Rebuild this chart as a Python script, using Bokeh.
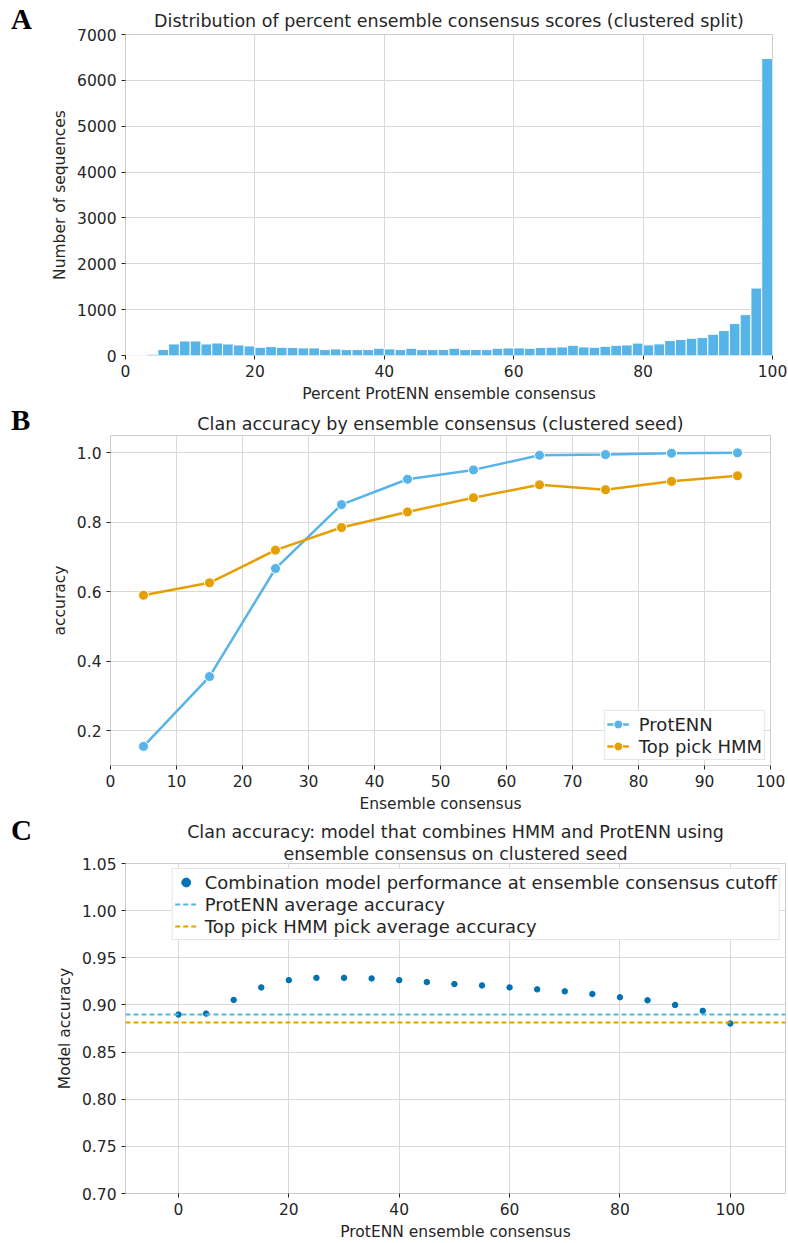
import numpy as np
from bokeh.plotting import figure
from bokeh.layouts import column, row
from bokeh.models import Range1d, FixedTicker, Title, PrintfTickFormatter, Div
from bokeh.embed import file_html
from bokeh.resources import INLINE

# ---------------- data ----------------
# Panel A: histogram of percent ensemble consensus (60 bins over 0..100)
hist_counts = [0, 0, 29, 129, 252, 317, 317, 252, 273, 252,
               230, 209, 180, 194, 180, 173, 165, 165, 129, 144,
               129, 129, 129, 158, 144, 129, 158, 129, 129, 129,
               158, 129, 129, 129, 158, 165, 165, 158, 173, 180,
               187, 223, 187, 180, 201, 223, 230, 270, 232, 254,
               326, 348, 377, 391, 464, 543, 696, 891, 1471, 6478]
hist_min = 0
hist_max = 100

# Panel B: accuracy by ensemble consensus bin
consensus_bins = [5, 15, 25, 35, 45, 55, 65, 75, 85, 95]
protenn_acc = [0.155, 0.356, 0.667, 0.851, 0.924, 0.951, 0.993, 0.995, 0.999, 1.000]
hmm_acc = [0.590, 0.626, 0.720, 0.785, 0.830, 0.871, 0.908, 0.894, 0.918, 0.934]

# Panel C: combination model accuracy by cutoff
cutoffs = [0, 5, 10, 15, 20, 25, 30, 35, 40, 45, 50, 55, 60, 65, 70, 75, 80, 85, 90, 95, 100]
combo_acc = [0.8898, 0.8908, 0.9053, 0.9186, 0.9263, 0.9287, 0.9287, 0.9281, 0.9263, 0.9242,
             0.9221, 0.9207, 0.9186, 0.9165, 0.9144, 0.9116, 0.9081, 0.9049, 0.9000, 0.8937, 0.8803]
protenn_avg = 0.890
hmm_avg = 0.881

# ---------------- style ----------------
FONT = "DejaVu Sans"
TXT = "#262626"
GRID = "#d9d9d9"
BLUE = "#56B4E9"
ORANGE = "#E69F00"
DARKBLUE = "#0072B2"
LW = 40          # width of the column holding the panel letters
W = 788 - LW


def style(p, title):
    p.title.text = title
    p.title.text_font = FONT
    p.title.text_font_size = "17.5px"
    p.title.text_font_style = "normal"
    p.title.text_color = TXT
    p.title.align = "center"
    p.outline_line_color = "#cccccc"
    p.background_fill_color = "white"
    p.border_fill_color = "white"
    for ax in p.axis:
        ax.axis_line_color = None
        ax.major_tick_line_color = TXT
        ax.major_tick_out = 4
        ax.major_tick_in = 0
        ax.minor_tick_line_color = None
        ax.major_label_text_font = FONT
        ax.major_label_text_font_size = "15.5px"
        ax.major_label_text_color = TXT
        ax.axis_label_text_font = FONT
        ax.axis_label_text_font_size = "15.5px"
        ax.axis_label_text_font_style = "normal"
        ax.axis_label_text_color = TXT
        ax.axis_label_standoff = 5
    for g in p.grid:
        g.grid_line_color = GRID
        g.grid_line_width = 1


def letter(txt, pad_top):
    return Div(text=("<div style=\"font-family:'Liberation Serif';font-weight:bold;"
                     "font-size:29px;line-height:1;color:black;padding-left:11px;"
                     "padding-top:%dpx;\">%s</div>" % (pad_top, txt)),
               width=LW, height=45, margin=0)


# ---------------- Panel A ----------------
pA = figure(width=W, height=405, output_backend="svg", toolbar_location=None,
            x_range=Range1d(0, 100), y_range=Range1d(0, 7000),
            min_border_left=125 - LW, min_border_right=16, min_border_top=34, min_border_bottom=50)
edges = np.linspace(hist_min, hist_max, len(hist_counts) + 1)
pA.quad(left=edges[:-1], right=edges[1:], bottom=0, top=hist_counts,
        fill_color=BLUE, line_color="white", line_width=1)
style(pA, "Distribution of percent ensemble consensus scores (clustered split)")
pA.title.standoff = 8
pA.xaxis.ticker = FixedTicker(ticks=[0, 20, 40, 60, 80, 100])
pA.yaxis.ticker = FixedTicker(ticks=[0, 1000, 2000, 3000, 4000, 5000, 6000, 7000])
pA.xaxis.axis_label = "Percent ProtENN ensemble consensus"
pA.yaxis.axis_label = "Number of sequences"

# ---------------- Panel B ----------------
pB = figure(width=W, height=410, output_backend="svg", toolbar_location=None,
            x_range=Range1d(0, 100), y_range=Range1d(0.1, 1.05),
            min_border_left=110 - LW, min_border_right=18, min_border_top=30, min_border_bottom=50)
pB.line(consensus_bins, protenn_acc, line_color=BLUE, line_width=2.5, legend_label="ProtENN")
pB.scatter(consensus_bins, protenn_acc, size=10, fill_color=BLUE, line_color="white",
           line_width=1, legend_label="ProtENN")
pB.line(consensus_bins, hmm_acc, line_color=ORANGE, line_width=2.5, legend_label="Top pick HMM")
pB.scatter(consensus_bins, hmm_acc, size=10, fill_color=ORANGE, line_color="white",
           line_width=1, legend_label="Top pick HMM")
style(pB, "Clan accuracy by ensemble consensus (clustered seed)")
pB.title.standoff = 4
pB.xaxis.ticker = FixedTicker(ticks=list(range(0, 101, 10)))
pB.yaxis.ticker = FixedTicker(ticks=[0.2, 0.4, 0.6, 0.8, 1.0])
pB.yaxis.formatter = PrintfTickFormatter(format="%.1f")
pB.xaxis.axis_label = "Ensemble consensus"
pB.yaxis.axis_label = "accuracy"
pB.legend.location = "bottom_right"
pB.legend.label_text_font = FONT
pB.legend.label_text_font_size = "18px"
pB.legend.label_text_color = TXT
pB.legend.border_line_color = "#cccccc"
pB.legend.margin = 5
pB.legend.padding = 2
pB.legend.spacing = 0
pB.legend.glyph_width = 22
pB.legend.glyph_height = 22
pB.legend.label_height = 22
pB.legend.label_standoff = 10

# ---------------- Panel C ----------------
pC = figure(width=W, height=428, output_backend="svg", toolbar_location=None,
            x_range=Range1d(-9.6, 110), y_range=Range1d(0.70, 1.05),
            min_border_left=125 - LW, min_border_right=3, min_border_top=48, min_border_bottom=48)
pC.scatter(cutoffs, combo_acc, size=5.5, fill_color=DARKBLUE, line_color=DARKBLUE,
           legend_label="Combination model performance at ensemble consensus cutoff")
pC.hspan(y=[protenn_avg], line_color=BLUE, line_width=1.8, line_dash="5 3",
         legend_label="ProtENN average accuracy")
pC.hspan(y=[hmm_avg], line_color=ORANGE, line_width=1.8, line_dash="5 3",
         legend_label="Top pick HMM pick average accuracy")
style(pC, "Clan accuracy: model that combines HMM and ProtENN using")
pC.title.standoff = 0
pC.add_layout(Title(text="ensemble consensus on clustered seed",
                    text_font=FONT, text_font_size="17.5px", text_font_style="normal",
                    text_color=TXT, align="center", standoff=0), "above")
pC.xaxis.ticker = FixedTicker(ticks=[0, 20, 40, 60, 80, 100])
pC.yaxis.ticker = FixedTicker(ticks=[0.70, 0.75, 0.80, 0.85, 0.90, 0.95, 1.00, 1.05])
pC.yaxis.formatter = PrintfTickFormatter(format="%.2f")
pC.xaxis.axis_label = "ProtENN ensemble consensus"
pC.yaxis.axis_label = "Model accuracy"
pC.legend.location = "top_right"
pC.legend.label_text_font = FONT
pC.legend.label_text_font_size = "18px"
pC.legend.label_text_color = TXT
pC.legend.border_line_color = "#cccccc"
pC.legend.margin = 5
pC.legend.padding = 2
pC.legend.spacing = 0
pC.legend.glyph_width = 22
pC.legend.glyph_height = 22
pC.legend.label_height = 22
pC.legend.label_standoff = 8

layout = column(row(letter("A", 5), pA, spacing=0),
                row(letter("B", 1), pB, spacing=0),
                row(letter("C", 1), pC, spacing=0), spacing=0)
open("out.html", "w").write(file_html(layout, INLINE))
